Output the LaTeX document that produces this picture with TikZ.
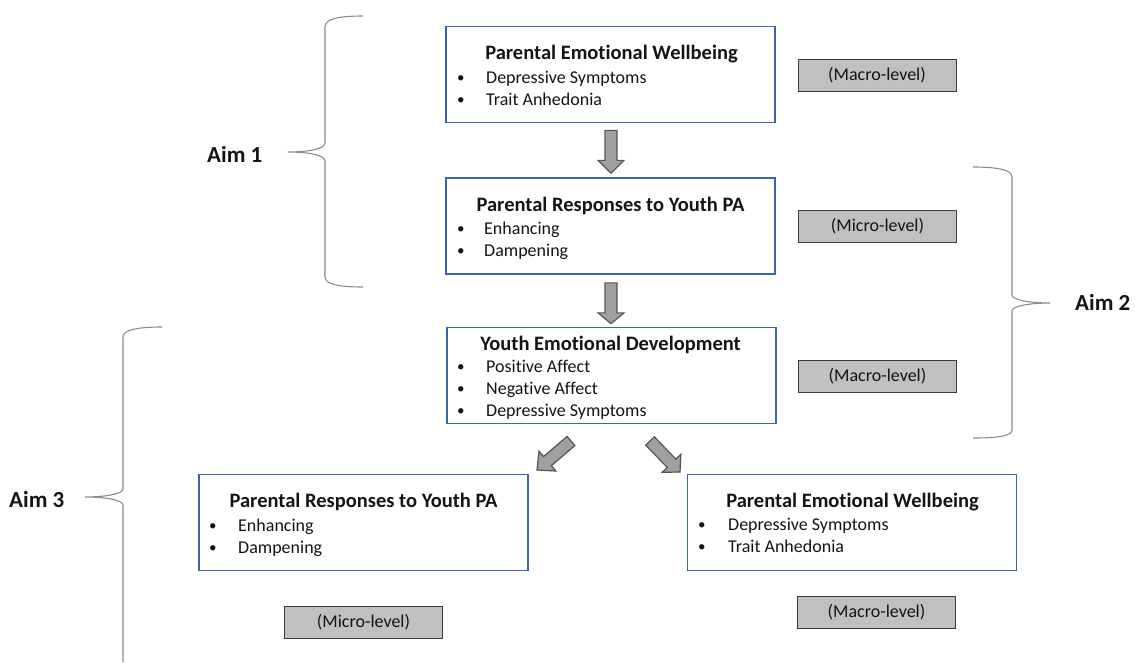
\documentclass[tikz,border=0pt]{standalone}
\usepackage{fontspec}
\setmainfont{Carlito}[RawFeature={-liga;-clig;-calt;-dlig}]
\usetikzlibrary{calc}
\definecolor{boxblue}{RGB}{62,100,176}
\definecolor{txt}{RGB}{20,20,20}
\definecolor{lvlfill}{RGB}{192,192,192}
\definecolor{lvldraw}{RGB}{60,60,60}
\definecolor{arrfill}{RGB}{160,160,160}
\definecolor{arrdraw}{RGB}{85,85,85}
\definecolor{bracecol}{RGB}{140,140,140}
\newcommand{\blockarrow}[2]{%
  \coordinate (#1h) at ($(#1s)!#2!(#1e)$);
  \filldraw[blockarr] ($(#1s)!6pt!90:(#1e)$) -- ($(#1h)!6pt!-90:(#1s)$) -- ($(#1h)!13pt!-90:(#1s)$) -- (#1e)
    -- ($(#1h)!13pt!90:(#1s)$) -- ($(#1h)!6pt!90:(#1s)$) -- ($(#1s)!6pt!-90:(#1e)$) -- cycle;}
\begin{document}
\begin{tikzpicture}[x=1pt,y=-1pt,
  mainbox/.style={draw=boxblue,line width=1.7pt,inner sep=0pt,minimum width=329pt,minimum height=96pt},
  head/.style={font=\fontsize{20.5}{24}\selectfont\bfseries,text=txt,inner sep=0pt,anchor=base},
  item/.style={font=\fontsize{18}{22}\selectfont,text=txt,inner sep=0pt,anchor=base west},
  bul/.style={font=\fontsize{15}{18}\selectfont,text=txt,inner sep=0pt,anchor=base west},
  lvl/.style={draw=lvldraw,fill=lvlfill,line width=0.9pt,inner sep=0pt,minimum width=158pt,minimum height=32pt,font=\fontsize{18}{22}\selectfont,text=txt},
  aim/.style={font=\fontsize{23}{27}\selectfont\bfseries,text=txt,inner sep=0pt,anchor=base west},
  blockarr/.style={draw=arrdraw,fill=arrfill,line width=1.2pt,line join=miter},
  bracepath/.style={draw=bracecol,line width=1.1pt}]
\useasboundingbox (0,0) rectangle (1135,662);

% main boxes
\node[mainbox] (b1) at (610.5,74.5) {};
\node[mainbox] (b2) at (610.5,226) {};
\node[mainbox] (b3) at (611.5,375.5) {};
\node[mainbox] (b4) at (363.5,522.5) {};
\node[mainbox] (b5) at (852,522.5) {};

% box 1
\node[head] (h1) at (611.5,59) {Parental Emotional Wellbeing};
\node[bul] (i11) at (457,82) {•};
\node[item] (t11) at (486,83) {Depressive Symptoms};
\node[bul] (i12) at (457,104) {•};
\node[item] (t12) at (486,105) {Trait Anhedonia};

% box 2
\node[head] (h2) at (610.5,211) {Parental Responses to Youth PA};
\node[bul] (i21) at (457,233) {•};
\node[item] (t21) at (484,234) {Enhancing};
\node[bul] (i22) at (457,255) {•};
\node[item] (t22) at (484,256) {Dampening};

% box 3
\node[head] (h3) at (610.5,350) {Youth Emotional Development};
\node[bul] (i31) at (457,371) {•};
\node[item] (t31) at (486,372) {Positive Affect};
\node[bul] (i32) at (457,393) {•};
\node[item] (t32) at (486,394) {Negative Affect};
\node[bul] (i33) at (457,415) {•};
\node[item] (t33) at (486,416) {Depressive Symptoms};

% box 4
\node[head] (h4) at (363.5,507) {Parental Responses to Youth PA};
\node[bul] (i41) at (209,530) {•};
\node[item] (t41) at (238,531) {Enhancing};
\node[bul] (i42) at (209,552) {•};
\node[item] (t42) at (238,553) {Dampening};

% box 5
\node[head] (h5) at (852.5,507) {Parental Emotional Wellbeing};
\node[bul] (i51) at (698,529) {•};
\node[item] (t51) at (728,530) {Depressive Symptoms};
\node[bul] (i52) at (698,551) {•};
\node[item] (t52) at (728,552) {Trait Anhedonia};

% level boxes
\node[lvl] (l1) at (877,75.5) {(Macro-level)};
\node[lvl] (l2) at (877.5,226) {(Micro-level)};
\node[lvl] (l3) at (877.5,376) {(Macro-level)};
\node[lvl] (l4) at (363.5,622.5) {(Micro-level)};
\node[lvl] (l5) at (876.5,612.5) {(Macro-level)};

% block arrows (tail s, tip e)
\coordinate (ps) at ($(b1.south)+(0.5,7)$);
\coordinate (pe) at ($(b2.north)+(0.5,-4)$);
\blockarrow{p}{30pt}
\coordinate (qs) at ($(b2.south)+(0.5,8)$);
\coordinate (qe) at ($(b3.north)+(-0.5,-3)$);
\blockarrow{q}{30pt}
\coordinate (rs) at (571,441);
\coordinate (re) at (537,470);
\blockarrow{r}{31pt}
\coordinate (us) at (650,441);
\coordinate (ue) at (680,472);
\blockarrow{u}{31pt}

% braces
\path[bracepath] (363,16) .. controls (338,16) and (325,19) .. (325,27) -- (325,143)
  .. controls (325,149) and (308,152) .. (288,152)
  .. controls (308,152) and (325,155) .. (325,161) -- (325,277)
  .. controls (325,284) and (338,287) .. (363,287);
\path[bracepath] (973,167) .. controls (998,167) and (1012,170) .. (1012,177) -- (1012,295)
  .. controls (1012,300) and (1030,303) .. (1050,303)
  .. controls (1030,303) and (1012,306) .. (1012,311) -- (1012,430)
  .. controls (1012,436) and (998,438) .. (973,438);
\path[bracepath] (162,327) .. controls (137,327) and (123,330) .. (123,337) -- (123,489)
  .. controls (123,494) and (105,497) .. (85,497)
  .. controls (105,497) and (123,500) .. (123,505) -- (123,662);

% aim labels
\node[aim] (aim1) at (207,162) {Aim 1};
\node[aim] (aim2) at (1075,310) {Aim 2};
\node[aim] (aim3) at (9,507) {Aim 3};
\end{tikzpicture}
\end{document}
